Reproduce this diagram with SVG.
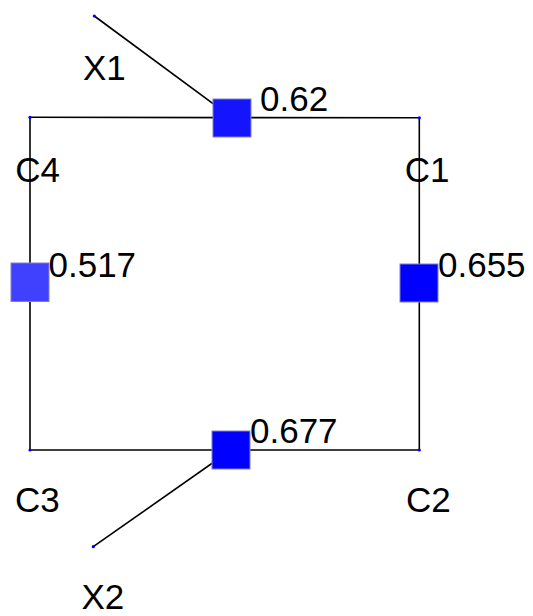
<svg xmlns="http://www.w3.org/2000/svg" width="533" height="616" viewBox="0 0 533 616">
<style>
.edge{stroke:#000;stroke-width:1.6;fill:none}
.pt{fill:#0000ff}
.sq{stroke:#8080c8;stroke-width:1}
text{font-family:"Liberation Sans",Arial,sans-serif;font-size:35px;fill:#000}
</style>
<rect width="533" height="616" fill="#fff"/>
<g id="connectors">
<line class="edge" x1="30" y1="117.3" x2="232" y2="117.6"/>
<line class="edge" x1="232" y1="117.6" x2="419.3" y2="117.8"/>
<line class="edge" x1="419.3" y1="117.8" x2="419.3" y2="450"/>
<line class="edge" x1="30" y1="450" x2="419.3" y2="450"/>
<line class="edge" x1="30" y1="117.3" x2="30" y2="450"/>
<line class="edge" x1="94.3" y1="16" x2="232" y2="117.6"/>
<line class="edge" x1="93.3" y1="546.7" x2="231" y2="450"/>
</g>
<g id="X1"><circle class="pt" cx="94.3" cy="16" r="1.6"/><text x="83" y="80">X1</text></g>
<g id="X2"><circle class="pt" cx="93.3" cy="546.7" r="1.6"/><text x="81.5" y="609">X2</text></g>
<g id="C4"><circle class="pt" cx="30" cy="117.3" r="1.6"/><text x="15.3" y="181.5">C4</text></g>
<g id="C1"><circle class="pt" cx="419.3" cy="117.8" r="1.6"/><text x="404.8" y="181.5">C1</text></g>
<g id="C3"><circle class="pt" cx="30" cy="450" r="1.6"/><text x="15.1" y="511.7">C3</text></g>
<g id="C2"><circle class="pt" cx="419.3" cy="450" r="1.6"/><text x="406.1" y="511.7">C2</text></g>
<g id="S_top"><rect class="sq" x="213" y="99" width="38" height="38" fill="#1414ff"/><text x="260" y="110.7">0.62</text></g>
<g id="S_left"><rect class="sq" x="11" y="263" width="38" height="38.5" fill="#4040ff"/><text x="48.5" y="276.7">0.517</text></g>
<g id="S_right"><rect class="sq" x="400" y="264" width="38" height="38" fill="#0000ff"/><text x="438" y="276.7">0.655</text></g>
<g id="S_bottom"><rect class="sq" x="212" y="431" width="38" height="38" fill="#0000ff"/><text x="250" y="443.3">0.677</text></g>
</svg>
